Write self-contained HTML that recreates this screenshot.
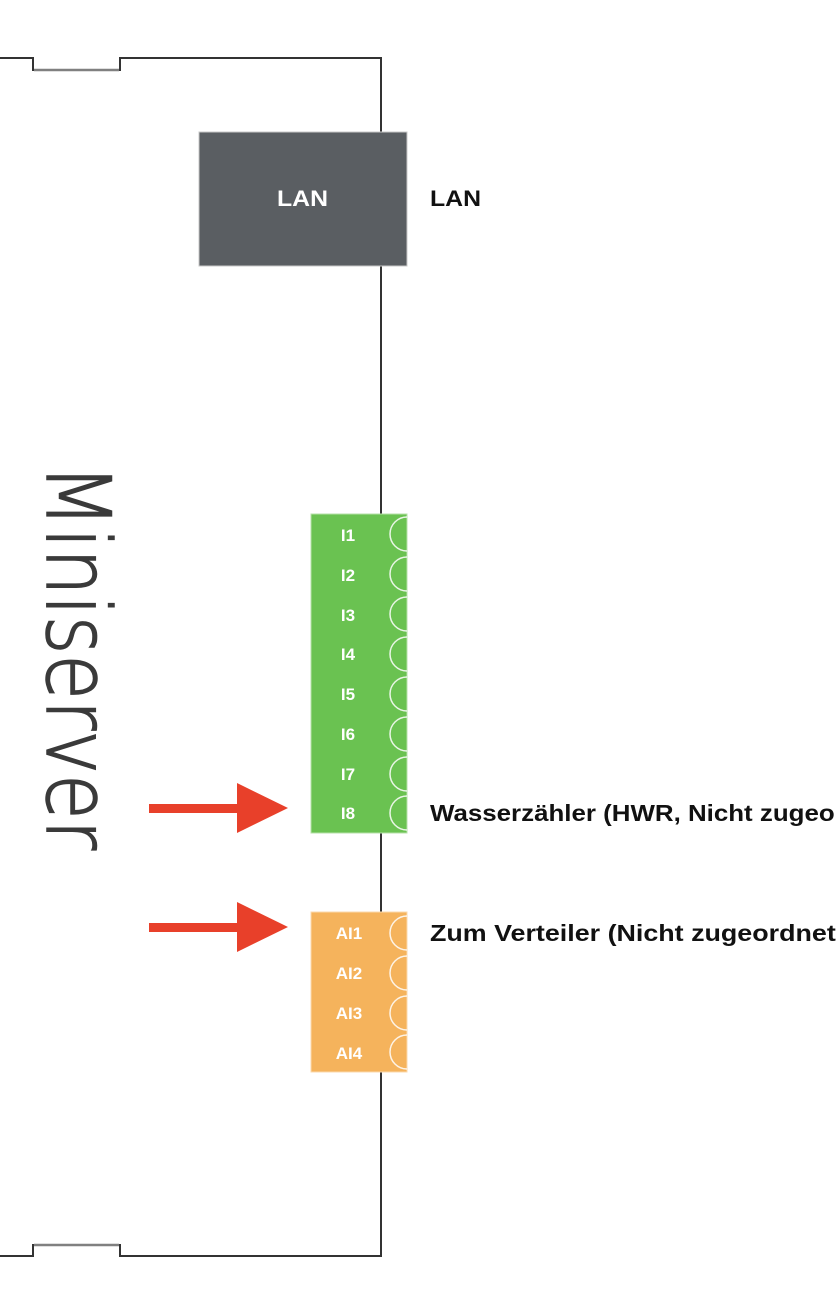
<!DOCTYPE html>
<html><head><meta charset="utf-8"><style>html,body{margin:0;padding:0;background:#fff}</style></head>
<body>
<svg width="836" height="1306" viewBox="0 0 836 1306" xmlns="http://www.w3.org/2000/svg" font-family="Liberation Sans, Arial, sans-serif">
<rect width="836" height="1306" fill="#fff"/>
<polyline points="0,58 33,58 33,70 120,70 120,58 381,58 381,1256 120,1256 120,1245 33,1245 33,1256 0,1256" fill="none" stroke="#333" stroke-width="2"/>
<line x1="34" y1="70" x2="119" y2="70" stroke="#808080" stroke-width="2.5"/>
<line x1="34" y1="1245" x2="119" y2="1245" stroke="#808080" stroke-width="2.5"/>
<rect x="199" y="132" width="208" height="134" fill="#5a5e62" stroke="#c8c8c8" stroke-width="1"/>
<text x="277" y="206" fill="#fff" font-size="22" font-weight="bold" textLength="51" lengthAdjust="spacingAndGlyphs">LAN</text>
<text x="430" y="206" fill="#111" font-size="22" font-weight="bold" textLength="51" lengthAdjust="spacingAndGlyphs">LAN</text>
<text transform="translate(47,464) rotate(90)" font-size="88" fill="#3a3a3a" stroke="#3a3a3a" stroke-width="1.5" textLength="386" lengthAdjust="spacingAndGlyphs" font-family="DejaVu Sans, sans-serif" font-weight="200">Miniserver</text>
<clipPath id="c"><rect x="311" y="514" width="96" height="558"/></clipPath>
<rect x="311" y="514" width="96" height="319" fill="#6ac251" stroke="#b5e0a8" stroke-width="1"/>
<rect x="311" y="912" width="96" height="160" fill="#f5b35c" stroke="#fbd9ad" stroke-width="1"/>
<g clip-path="url(#c)" fill="none" stroke="#fff" stroke-width="1.5" opacity="0.85">
<circle cx="407" cy="534" r="17"/><circle cx="407" cy="574" r="17"/><circle cx="407" cy="614" r="17"/><circle cx="407" cy="654" r="17"/>
<circle cx="407" cy="694" r="17"/><circle cx="407" cy="734" r="17"/><circle cx="407" cy="774" r="17"/><circle cx="407" cy="813" r="17"/>
<circle cx="407" cy="933" r="17"/><circle cx="407" cy="973" r="17"/><circle cx="407" cy="1013" r="17"/><circle cx="407" cy="1052" r="17"/>
</g>
<g fill="#fff" font-size="17" font-weight="bold" text-anchor="middle">
<text x="348" y="541">I1</text><text x="348" y="581">I2</text><text x="348" y="621">I3</text><text x="348" y="660">I4</text>
<text x="348" y="700">I5</text><text x="348" y="740">I6</text><text x="348" y="780">I7</text><text x="348" y="819">I8</text>
<text x="349" y="939">AI1</text><text x="349" y="979">AI2</text><text x="349" y="1019">AI3</text><text x="349" y="1059">AI4</text>
</g>
<g fill="#e8402a">
<rect x="149" y="804" width="92" height="9"/><polygon points="237,783 288,808 237,833"/>
<rect x="149" y="923" width="92" height="9"/><polygon points="237,902 288,927 237,952"/>
</g>
<text x="430" y="821" fill="#111" font-size="23" font-weight="bold" textLength="478" lengthAdjust="spacingAndGlyphs">Wasserzähler (HWR, Nicht zugeordnet)</text>
<text x="430" y="941" fill="#111" font-size="23" font-weight="bold" textLength="452" lengthAdjust="spacingAndGlyphs">Zum Verteiler (Nicht zugeordnet, ...)</text>
</svg>
</body></html>
